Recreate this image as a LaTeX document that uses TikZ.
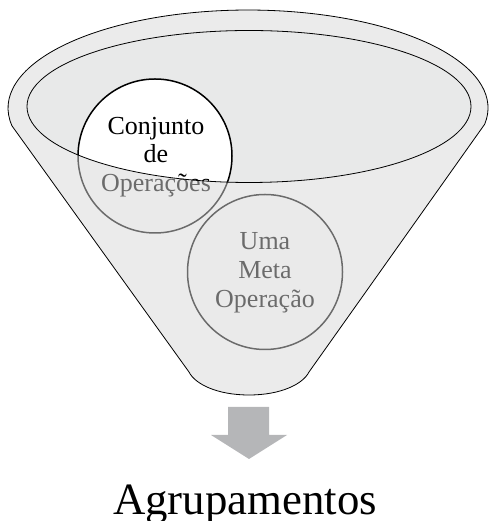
\documentclass[tikz,border=0pt]{standalone}
\usepackage{fontspec}
\setmainfont{Liberation Serif}
\definecolor{innergray}{HTML}{E8E9E9}
\definecolor{veil}{gray}{0.844}
\definecolor{arrowgray}{HTML}{B5B6B8}
\tikzset{
  outline/.style={draw=black, line width=0.8pt},
  bubble/.style={draw=black, line width=1.5pt, fill=white},
  bubbletext/.style={anchor=base, inner sep=0pt, font=\fontsize{26}{29}\selectfont},
  bigtext/.style={anchor=base, inner sep=0pt, font=\fontsize{44.8}{50}\selectfont},
}
\begin{document}
\begin{tikzpicture}[x=1pt,y=1pt]
\useasboundingbox (0,0) rectangle (489,521);
% inner opening
\fill[innergray] (249,414.5) ellipse[x radius=222pt, y radius=76pt];
% circles
\node[bubble, circle, minimum size=154pt, inner sep=0pt] (c1) at (155,365) {};
\node[bubble, circle, minimum size=155pt, inner sep=0pt] (c2) at (265,249) {};
\node[bubbletext] (c1a) at (156,386) {Conjunto};
\node[bubbletext] (c1b) at (156,358) {de};
\node[bubbletext] (c1c) at (156,329) {Operações};
\node[bubbletext] (c2a) at (265,271) {Uma};
\node[bubbletext] (c2b) at (265,242) {Meta};
\node[bubbletext] (c2c) at (265,213) {Operação};
% veil over funnel body (outside the opening)
\fill[veil, opacity=0.5, even odd rule]
  (12,395.1) -- (189,149) .. controls (195,137) and (217,126) .. (249,126)
  .. controls (281,126) and (303,137) .. (309,149) -- (484.7,396.8)
  arc[start angle=-9.5, end angle=190.5, x radius=240pt, y radius=98pt] -- cycle
  (249,414.5) ellipse[x radius=222pt, y radius=76pt];
% outlines
\draw[outline]
  (12,395.1) -- (189,149) .. controls (195,137) and (217,126) .. (249,126)
  .. controls (281,126) and (303,137) .. (309,149) -- (484.7,396.8)
  arc[start angle=-9.5, end angle=190.5, x radius=240pt, y radius=98pt] -- cycle;
\draw[outline] (249,414.5) ellipse[x radius=222pt, y radius=76pt];
% arrow
\fill[arrowgray] (228,114) -- (269,114) -- (269,86) -- (287,86) -- (249,62) -- (211,86) -- (228,86) -- cycle;
\node[bigtext] (agr) at (245,6) {Agrupamentos};
\end{tikzpicture}
\end{document}
